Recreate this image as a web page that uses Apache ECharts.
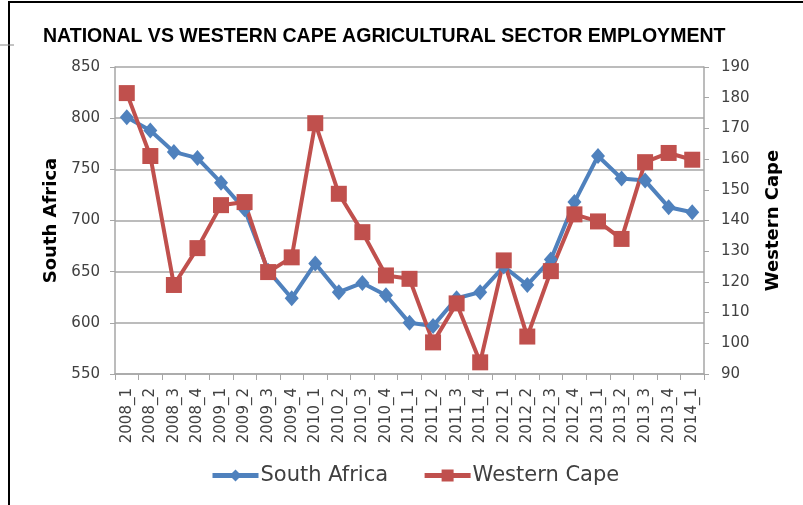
<!DOCTYPE html>
<html>
<head>
<meta charset="utf-8">
<script src="https://cdn.jsdelivr.net/npm/echarts@6/dist/echarts.min.js"></script>
<style>
  html, body { margin: 0; padding: 0; background: #fff; }
  #main { width: 803px; height: 505px; }
</style>
</head>
<body>
<div id="main"></div>
<script>
// quarters
var quarters = ['2008_1', '2008_2', '2008_3', '2008_4', '2009_1', '2009_2', '2009_3', '2009_4',
    '2010_1', '2010_2', '2010_3', '2010_4', '2011_1', '2011_2', '2011_3', '2011_4',
    '2012_1', '2012_2', '2012_3', '2012_4', '2013_1', '2013_2', '2013_3', '2013_4', '2014_1'];

// national (left axis)
var southAfrica = [801, 788, 767, 761, 737, 711, 651, 624, 658, 630, 639, 627,
    600, 597, 624, 630, 655, 637, 662, 718, 763, 741, 739, 713, 708];

// western cape (right axis)
var westernCape = [181.5, 161, 119, 131, 145, 146, 123.2, 128, 171.7, 148.7, 136.2, 122.1,
    121, 100.3, 113, 93.8, 127, 102.2, 123.5, 142, 139.7, 134, 159, 162, 159.8];

var font = 'DejaVu Sans';
var grey = '#a6a6a6';
var txt = '#404040';

var myChart = echarts.init(document.getElementById('main'));
myChart.setOption({
    animation: false,
    graphic: [
        { type: 'line', shape: { x1: 8, y1: 2, x2: 803, y2: 2 }, style: { stroke: '#000', lineWidth: 2 } },
        { type: 'line', shape: { x1: 9, y1: 2, x2: 9, y2: 505 }, style: { stroke: '#000', lineWidth: 2 } },
        { type: 'line', shape: { x1: 0, y1: 45, x2: 14, y2: 45 }, style: { stroke: '#888', lineWidth: 1 } },
        {
            type: 'text',
            x: 43,
            y: 36,
            scaleX: 0.93,
            style: {
                text: 'NATIONAL VS WESTERN CAPE AGRICULTURAL SECTOR EMPLOYMENT',
                font: 'bold 21px "Liberation Sans"',
                fill: '#000',
                textVerticalAlign: 'middle'
            }
        }
    ],
    legend: {
        bottom: 14,
        left: 205,
        itemWidth: 46,
        itemHeight: 15,
        itemGap: 34,
        lineStyle: { width: 5 },
        textStyle: { fontFamily: font, fontSize: 21, color: txt, padding: [0, 0, 0, -3] },
        data: ['South Africa', 'Western Cape']
    },
    grid: {
        left: 115,
        right: 99,
        top: 67,
        bottom: 131
    },
    xAxis: {
        type: 'category',
        data: quarters,
        boundaryGap: true,
        axisLine: { lineStyle: { color: grey, width: 1.5 } },
        axisTick: { show: true, length: 6, lineStyle: { color: grey } },
        axisLabel: {
            rotate: 90,
            interval: 0,
            fontFamily: font,
            fontSize: 15,
            color: txt,
            margin: 14
        }
    },
    yAxis: [{
        type: 'value',
        min: 550,
        max: 850,
        interval: 50,
        name: 'South Africa',
        nameLocation: 'middle',
        nameGap: 54,
        nameTextStyle: { fontFamily: font, fontWeight: 'bold', fontSize: 18, color: '#000' },
        axisLine: { show: true, lineStyle: { color: grey, width: 1.5 } },
        axisTick: { show: true, length: 5, lineStyle: { color: grey } },
        axisLabel: { fontFamily: font, fontSize: 15, color: txt, margin: 15 },
        splitLine: { lineStyle: { color: grey, width: 1.5 } }
    }, {
        type: 'value',
        min: 90,
        max: 190,
        interval: 10,
        name: 'Western Cape',
        nameLocation: 'middle',
        nameGap: 60,
        nameRotate: 90,
        nameTextStyle: { fontFamily: font, fontWeight: 'bold', fontSize: 18, color: '#000' },
        axisLine: { show: true, lineStyle: { color: grey, width: 1.5 } },
        axisTick: { show: true, length: 5, lineStyle: { color: grey } },
        axisLabel: { fontFamily: font, fontSize: 15, color: txt, margin: 17 },
        splitLine: { show: false }
    }],
    series: [{
        name: 'South Africa',
        type: 'line',
        yAxisIndex: 0,
        data: southAfrica,
        symbol: 'diamond',
        symbolSize: [14, 16],
        itemStyle: { color: '#4f81bd' },
        lineStyle: { width: 4, color: '#4f81bd' }
    }, {
        name: 'Western Cape',
        type: 'line',
        yAxisIndex: 1,
        data: westernCape,
        symbol: 'rect',
        symbolSize: 16,
        itemStyle: { color: '#c0504d' },
        lineStyle: { width: 4, color: '#c0504d' }
    }]
});
</script>
</body>
</html>
